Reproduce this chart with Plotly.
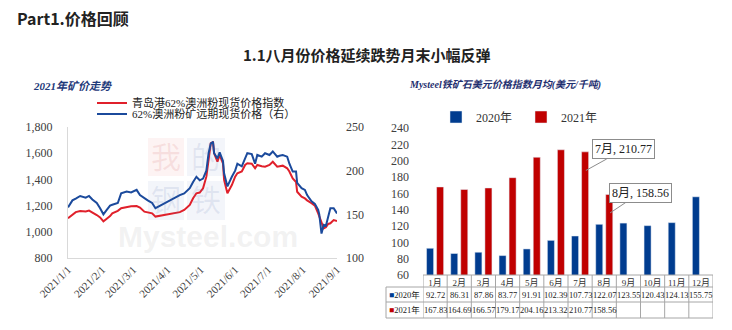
import plotly.graph_objects as go

# ---------------- data: left chart (2021 iron ore price trend) ----------------
dates = [
    "2021-01-01", "2021-01-05", "2021-01-08", "2021-01-12", "2021-01-17", "2021-01-20", "2021-01-23", "2021-01-27", "2021-01-30",
    "2021-02-02", "2021-02-05", "2021-02-08", "2021-02-10", "2021-02-15", "2021-02-18", "2021-02-23", "2021-02-27",
    "2021-03-04", "2021-03-07", "2021-03-11", "2021-03-14", "2021-03-18", "2021-03-21", "2021-03-27",
    "2021-04-03", "2021-04-07", "2021-04-12", "2021-04-16", "2021-04-21", "2021-04-24", "2021-04-27", "2021-04-30",
    "2021-05-03", "2021-05-06", "2021-05-08", "2021-05-10", "2021-05-12", "2021-05-13", "2021-05-16", "2021-05-18",
    "2021-05-21", "2021-05-22", "2021-05-25", "2021-05-29",
    "2021-06-01", "2021-06-03", "2021-06-07", "2021-06-10", "2021-06-12", "2021-06-16", "2021-06-19", "2021-06-21",
    "2021-06-25", "2021-06-28",
    "2021-07-02", "2021-07-05", "2021-07-09", "2021-07-11", "2021-07-14", "2021-07-18", "2021-07-20", "2021-07-23",
    "2021-07-26", "2021-07-27", "2021-07-31",
    "2021-08-03", "2021-08-05", "2021-08-09", "2021-08-12", "2021-08-15", "2021-08-16", "2021-08-18", "2021-08-20",
    "2021-08-22", "2021-08-24", "2021-08-26", "2021-08-29",
    "2021-09-01",
]
qingdao_idx = [
    1103, 1128, 1150, 1159, 1155, 1162, 1150, 1128, 1110,
    1080, 1100, 1120, 1141, 1160, 1180, 1190, 1195,
    1197, 1185, 1154, 1150, 1141, 1116, 1125,
    1136, 1140, 1150, 1167, 1205, 1256, 1294, 1300,
    1332, 1421, 1573, 1676, 1683, 1600, 1535, 1586,
    1523, 1396, 1294, 1357,
    1421, 1447, 1460, 1510, 1523, 1520, 1485, 1510,
    1500, 1497,
    1510, 1535, 1497, 1500, 1505, 1485, 1460, 1408,
    1380, 1306, 1268,
    1255, 1240, 1218, 1200, 1141, 1120, 1078, 1027,
    1035, 1060, 1065, 1090,
    1083,
]
forward_price = [
    158, 166, 168, 171, 169, 171, 167, 163, 157,
    150, 155, 160, 161, 163, 174, 176, 175,
    178, 172, 168, 166, 163, 157, 161,
    166, 168, 172, 174, 180, 187, 193, 189,
    191, 200, 220, 231, 233, 220, 214, 221,
    211, 197, 182, 193,
    200, 208, 205, 214, 220, 219, 208, 218,
    216, 220,
    218, 222, 216, 217, 218, 216, 208, 199,
    199, 186, 180,
    178, 172, 165, 162, 155, 150, 128, 138,
    137, 147, 157, 157,
    151,
]
date_ticks = ["2021-01-01", "2021-02-01", "2021-03-01", "2021-04-01", "2021-05-01",
              "2021-06-01", "2021-07-01", "2021-08-01", "2021-09-01"]
date_tick_text = ["2021/1/1", "2021/2/1", "2021/3/1", "2021/4/1", "2021/5/1",
                  "2021/6/1", "2021/7/1", "2021/8/1", "2021/9/1"]

# ---------------- data: right chart (monthly averages) ----------------
months = ["1月", "2月", "3月", "4月", "5月", "6月", "7月", "8月", "9月", "10月", "11月", "12月"]
avg_2020 = [92.72, 86.31, 87.86, 83.77, 91.91, 102.39, 107.73, 122.07, 123.55, 120.43, 124.13, 155.75]
avg_2021 = [167.83, 164.69, 166.57, 179.17, 204.16, 213.32, 210.77, 158.56, None, None, None, None]

RED = "#E0202B"
BLUE = "#1B4A9C"
BAR_BLUE = "#003C8F"
BAR_RED = "#C00000"
SERIF = "'Liberation Serif', 'Times New Roman', 'Noto Sans CJK SC', serif"
SANS = "'Noto Sans CJK SC', 'Noto Sans', sans-serif"
W, H = 732, 330


def px_x(px):
    return px / W


def px_y(py):
    return 1 - py / H


fig = go.Figure()

fig.add_trace(go.Scatter(x=dates, y=qingdao_idx, mode="lines", name="青岛港62%澳洲粉现货价格指数",
                         line=dict(color=RED, width=2), xaxis="x", yaxis="y", legend="legend"))
fig.add_trace(go.Scatter(x=dates, y=forward_price, mode="lines", name="62%澳洲粉矿远期现货价格（右）",
                         line=dict(color=BLUE, width=2), xaxis="x", yaxis="y2", legend="legend2"))

fig.add_trace(go.Bar(x=months, y=avg_2020, name="2020年", marker=dict(color=BAR_BLUE),
                     xaxis="x2", yaxis="y3", legend="legend3"))
fig.add_trace(go.Bar(x=months, y=avg_2021, name="2021年", marker=dict(color=BAR_RED),
                     xaxis="x2", yaxis="y3", legend="legend3"))

tick_font = dict(family=SERIF, size=12, color="#404040")

# table geometry (pixels -> paper)
t_top, t_r1, t_r2, t_bot = 275, 287, 302, 318
t_left = 386
plot2_left, plot2_right = 423, 713
left_ext = (t_left - plot2_left) / (plot2_right - plot2_left)

fig.update_layout(
    width=W, height=H,
    margin=dict(l=0, r=0, t=0, b=0, autoexpand=False),
    paper_bgcolor="white", plot_bgcolor="rgba(0,0,0,0)",
    barmode="group", bargap=0.17, bargroupgap=0.3,
    xaxis=dict(domain=[px_x(68), px_x(337)], type="date", range=["2021-01-01", "2021-09-01"],
               tickvals=date_ticks, ticktext=date_tick_text, tickangle=-45,
               tickfont=dict(family=SERIF, size=11, color="#404040"), automargin=False,
               showgrid=False, zeroline=False, showline=True, linecolor="#d9d9d9", linewidth=1,
               ticks="", anchor="y"),
    yaxis=dict(domain=[px_y(258), px_y(127)], range=[800, 1800], dtick=200, tickformat=",d",
               tickfont=tick_font, showgrid=False, zeroline=False, showline=True, automargin=False,
               linecolor="#d9d9d9", linewidth=1, ticks="", ticklabelstandoff=12, anchor="x"),
    yaxis2=dict(overlaying="y", side="right", range=[100, 250], dtick=50, tickfont=tick_font,
                showgrid=False, zeroline=False, showline=False, ticks="", ticklabelstandoff=8,
                anchor="x", automargin=False),
    xaxis2=dict(domain=[px_x(plot2_left), px_x(plot2_right)], type="category", range=[-0.5, 11.5],
                tickfont=dict(family=SERIF, size=9, color="#333333"), showgrid=False,
                zeroline=False, showline=False, ticks="", anchor="y3", ticklabelstandoff=1,
                automargin=False),
    yaxis3=dict(domain=[px_y(t_top), px_y(128)], range=[60, 240], dtick=20,
                tickfont=dict(family=SERIF, size=12, color="#404040"), showgrid=False,
                zeroline=False, showline=False, ticks="", ticklabelstandoff=13, anchor="x2",
                automargin=False),
    legend=dict(x=px_x(92), y=px_y(103), xanchor="left", yanchor="middle", bgcolor="rgba(0,0,0,0)",
                font=dict(family=SERIF, size=11, color="#222222"), itemwidth=30),
    legend2=dict(x=px_x(92), y=px_y(114), xanchor="left", yanchor="middle", bgcolor="rgba(0,0,0,0)",
                 font=dict(family=SERIF, size=11, color="#222222"), itemwidth=30),
    legend3=dict(x=px_x(521), y=px_y(117), xanchor="center", yanchor="middle", orientation="h",
                 bgcolor="rgba(0,0,0,0)", font=dict(family=SERIF, size=12, color="#333333"),
                 itemwidth=30, entrywidth=40),
    showlegend=True,
)

shapes = []
# watermark blocks (behind the lines)
for (x0, x1, y0, y1, col) in [(148, 184, 138, 176, "rgba(230,120,120,0.09)"),
                              (187, 225, 138, 176, "rgba(120,140,200,0.09)"),
                              (148, 184, 181, 220, "rgba(120,140,200,0.09)"),
                              (187, 225, 181, 220, "rgba(120,140,200,0.09)")]:
    shapes.append(dict(type="rect", xref="paper", yref="paper", x0=px_x(x0), x1=px_x(x1),
                       y0=px_y(y1), y1=px_y(y0), fillcolor=col, line=dict(width=0), layer="below"))

grid_col = "#a6a6a6"
# table: vertical lines at category boundaries
for i in range(len(months) + 1):
    shapes.append(dict(type="line", xref="x2", yref="paper", x0=i - 0.5, x1=i - 0.5,
                       y0=px_y(t_bot), y1=px_y(t_top), line=dict(color=grid_col, width=1)))
# left label column border
shapes.append(dict(type="line", xref="x2 domain", yref="paper", x0=left_ext, x1=left_ext,
                   y0=px_y(t_bot), y1=px_y(t_r1), line=dict(color=grid_col, width=1)))
# horizontal lines
shapes.append(dict(type="line", xref="x2 domain", yref="paper", x0=0, x1=1,
                   y0=px_y(t_top), y1=px_y(t_top), line=dict(color=grid_col, width=1)))
for yy in (t_r1, t_r2, t_bot):
    shapes.append(dict(type="line", xref="x2 domain", yref="paper", x0=left_ext, x1=1,
                       y0=px_y(yy), y1=px_y(yy), line=dict(color=grid_col, width=1)))

annotations = []


def note(text, x, y, size, color, family, xanchor="center", xref="paper"):
    return dict(text=text, x=x, y=y, xref=xref, yref="paper", xanchor=xanchor, yanchor="middle",
                showarrow=False, font=dict(family=family, size=size, color=color))


# titles
annotations.append(note("<b>Part1.价格回顾</b>", px_x(15), px_y(18), 16, "#222222", SANS, "left"))
annotations.append(note("<b>1.1八月份价格延续跌势月末小幅反弹</b>", px_x(367), px_y(55), 15, "#222222", SANS))
annotations.append(note("<b><i>2021年矿价走势</i></b>", px_x(31), px_y(86), 11, "#1F3A7A", SERIF, "left"))
annotations.append(note("<b><i>Mysteel铁矿石美元价格指数月均(美元/千吨)</i></b>", px_x(407), px_y(85), 10,
                        "#1F2F6F", SERIF, "left"))
# watermark text
for (txt, cx, cy, col) in [("我", 166, 157, "rgba(200,80,80,0.12)"), ("的", 206, 157, "rgba(90,110,170,0.12)"),
                           ("钢", 166, 200, "rgba(90,110,170,0.12)"), ("铁", 206, 200, "rgba(90,110,170,0.12)")]:
    annotations.append(note(txt, px_x(cx), px_y(cy), 30, col, SERIF))
annotations.append(note("<b>Mysteel.com</b>", px_x(208), px_y(236), 30, "rgba(190,190,190,0.2)",
                        "'Liberation Sans', sans-serif"))

# table row labels and values
row_font_size = 8.5
label_x = (t_left + plot2_left) / 2
row1_y = px_y((t_r1 + t_r2) / 2)
row2_y = px_y((t_r2 + t_bot) / 2)
annotations.append(note(f"<span style='color:{BAR_BLUE}'>■</span>2020年", px_x(label_x), row1_y,
                        row_font_size, "#222222", SERIF))
annotations.append(note(f"<span style='color:{BAR_RED}'>■</span>2021年", px_x(label_x), row2_y,
                        row_font_size, "#222222", SERIF))
for i, v in enumerate(avg_2020):
    annotations.append(note(f"{v:.2f}", i, row1_y, row_font_size, "#222222", SERIF, xref="x2"))
for i, v in enumerate(avg_2021):
    if v is not None:
        annotations.append(note(f"{v:.2f}", i, row2_y, row_font_size, "#222222", SERIF, xref="x2"))

# callouts
for (mi, tip_y, ax, ay) in [(6, 188, 38, -21), (7, 136, 30, -20)]:
    annotations.append(dict(text=f"{months[mi]}, {avg_2021[mi]:.2f}", x=mi + 0.24, y=tip_y, xref="x2",
                            yref="y3", showarrow=True, arrowhead=0, arrowwidth=1, arrowcolor="#8c8c8c",
                            ax=ax, ay=ay, bgcolor="white", bordercolor="#8c8c8c", borderwidth=1,
                            borderpad=2, font=dict(family=SERIF, size=12, color="#222222")))

fig.update_layout(shapes=shapes, annotations=annotations)

fig.write_html("out.html")
